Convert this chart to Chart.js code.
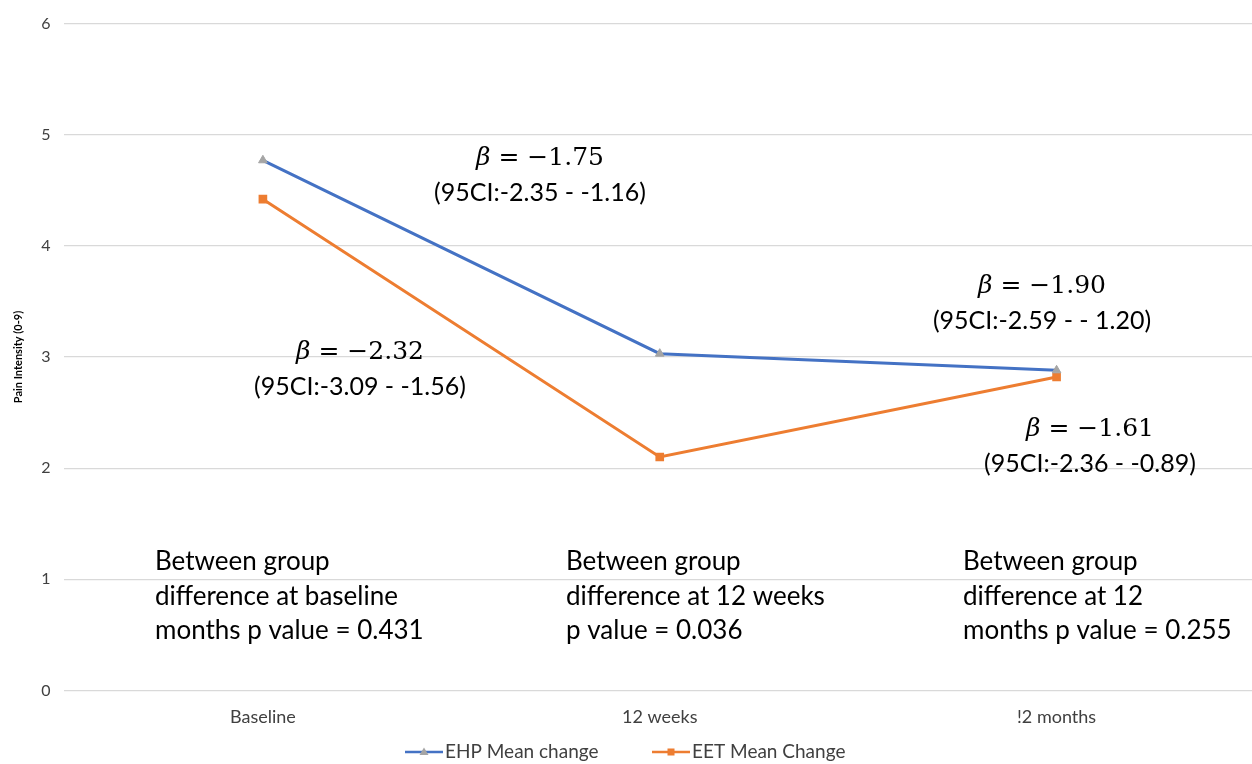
<!DOCTYPE html>
<html>
<head>
<meta charset="utf-8">
<script src="https://cdn.jsdelivr.net/npm/chart.js@4.4.0/dist/chart.umd.min.js"></script>
<style>
  html, body { margin: 0; padding: 0; background: #fff; overflow: hidden; }
  #wrap { width: 1262px; height: 764px; }
</style>
</head>
<body>
<div id="wrap"><canvas id="painChart"></canvas></div>
<script>
// categories and series
const timePoints = ["Baseline", "12 weeks", "!2 months"];
const ehpValues = [4.77, 3.03, 2.88];
const eetValues = [4.42, 2.10, 2.82];
const seriesNames = ["EHP Mean change", "EET Mean Change"];
const yTicks = [0, 1, 2, 3, 4, 5, 6];

// annotation texts
const betaLabels = ["\u2212" + "1.75", "\u2212" + "2.32", "\u2212" + "1.90", "\u2212" + "1.61"];
const ciLabels = ["(95CI:-2.35 - -1.16)", "(95CI:-3.09 - -1.56)", "(95CI:-2.59 - - 1.20)", "(95CI:-2.36 - -0.89)"];
const groupNotes = [
  ["Between group", "difference at baseline", "months p value = 0.431"],
  ["Between group", "difference at 12 weeks", "p value = 0.036"],
  ["Between group", "difference at 12", "months p value = 0.255"]
];

const BLUE = "#4472C4";
const ORANGE = "#ED7D31";

// positions of the text blocks (pixels on the canvas)
const betaPos = [[540, 158], [360, 352], [1042, 286], [1090, 429]];
const notePos = [155, 566, 963];
const legendPos = [405, 652];

function drawGlyph(ctx, x, y, color, marker) {
  ctx.strokeStyle = color;
  ctx.lineWidth = 2.5;
  ctx.beginPath(); ctx.moveTo(x, y); ctx.lineTo(x + 38, y); ctx.stroke();
  if (marker === "triangle") {
    ctx.fillStyle = "#A5A5A5";
    ctx.beginPath(); ctx.moveTo(x + 19, y - 4.5); ctx.lineTo(x + 23.5, y + 3); ctx.lineTo(x + 14.5, y + 3); ctx.closePath(); ctx.fill();
  } else {
    ctx.fillStyle = color;
    ctx.fillRect(x + 15.5, y - 3.5, 7, 7);
  }
}

const textPlugin = {
  id: "textNotes",
  afterDraw(chart) {
    const ctx = chart.ctx;
    ctx.save();
    ctx.fillStyle = "#000";
    ctx.textBaseline = "middle";
    betaLabels.forEach((b, i) => {
      const [cx, cy] = betaPos[i];
      const left = "\u03B2";
      const right = " = " + b;
      ctx.font = "italic 25px 'DejaVu Serif'";
      const wl = ctx.measureText(left).width;
      ctx.font = "25px 'DejaVu Serif'";
      const wr = ctx.measureText(right).width;
      const x0 = cx - (wl + wr) / 2;
      ctx.textAlign = "left";
      ctx.font = "italic 25px 'DejaVu Serif'";
      ctx.fillText(left, x0, cy);
      ctx.font = "25px 'DejaVu Serif'";
      ctx.fillText(right, x0 + wl, cy);
      ctx.textAlign = "center";
      ctx.font = "25px Lato";
      ctx.fillText(ciLabels[i], cx, cy + 35);
    });
    ctx.textAlign = "left";
    ctx.font = "26px Lato";
    groupNotes.forEach((lines, i) => {
      lines.forEach((t, j) => {
        ctx.fillText(t, notePos[i], 562 + j * 34.5);
      });
    });
    // legend
    const markers = ["triangle", "rect"];
    chart.data.datasets.forEach((ds, i) => {
      const x = legendPos[i];
      drawGlyph(ctx, x, 752, ds.borderColor, markers[i]);
      ctx.fillStyle = "#404040";
      ctx.font = "19px Lato";
      ctx.fillText(ds.label, x + 40, 752);
    });
    ctx.restore();
  }
};

new Chart(document.getElementById("painChart"), {
  type: "line",
  data: {
    labels: timePoints,
    datasets: [
      {
        label: seriesNames[0],
        data: ehpValues,
        borderColor: BLUE,
        borderWidth: 3,
        pointStyle: "triangle",
        pointRadius: 5,
        pointBackgroundColor: "#A5A5A5",
        pointBorderColor: "#A5A5A5",
        pointBorderWidth: 1,
        tension: 0
      },
      {
        label: seriesNames[1],
        data: eetValues,
        borderColor: ORANGE,
        borderWidth: 3,
        pointStyle: "rect",
        pointRadius: 4,
        pointBackgroundColor: ORANGE,
        pointBorderColor: ORANGE,
        tension: 0
      }
    ]
  },
  options: {
    responsive: true,
    maintainAspectRatio: false,
    animation: false,
    layout: { padding: { left: 8, right: 0, top: 3, bottom: 28 } },
    plugins: {
      legend: { display: false },
      tooltip: { enabled: false }
    },
    scales: {
      x: {
        offset: true,
        grid: { display: false },
        border: { display: false },
        ticks: { color: "#404040", font: { family: "Lato", size: 18 }, padding: 8 }
      },
      y: {
        min: 0,
        max: 6,
        afterBuildTicks(axis) { axis.ticks = yTicks.map(v => ({ value: v })); },
        grid: { color: "#D9D9D9", lineWidth: 1.2, drawTicks: false },
        border: { display: false },
        ticks: { color: "#404040", font: { family: "Lato", size: 16 }, padding: 14 },
        title: {
          display: true,
          text: "Pain Intensity (0-9)",
          color: "#000",
          font: { family: "Lato", size: 11, weight: "bold" },
          padding: { bottom: 2 }
        }
      }
    }
  },
  plugins: [textPlugin]
});
</script>
</body>
</html>
